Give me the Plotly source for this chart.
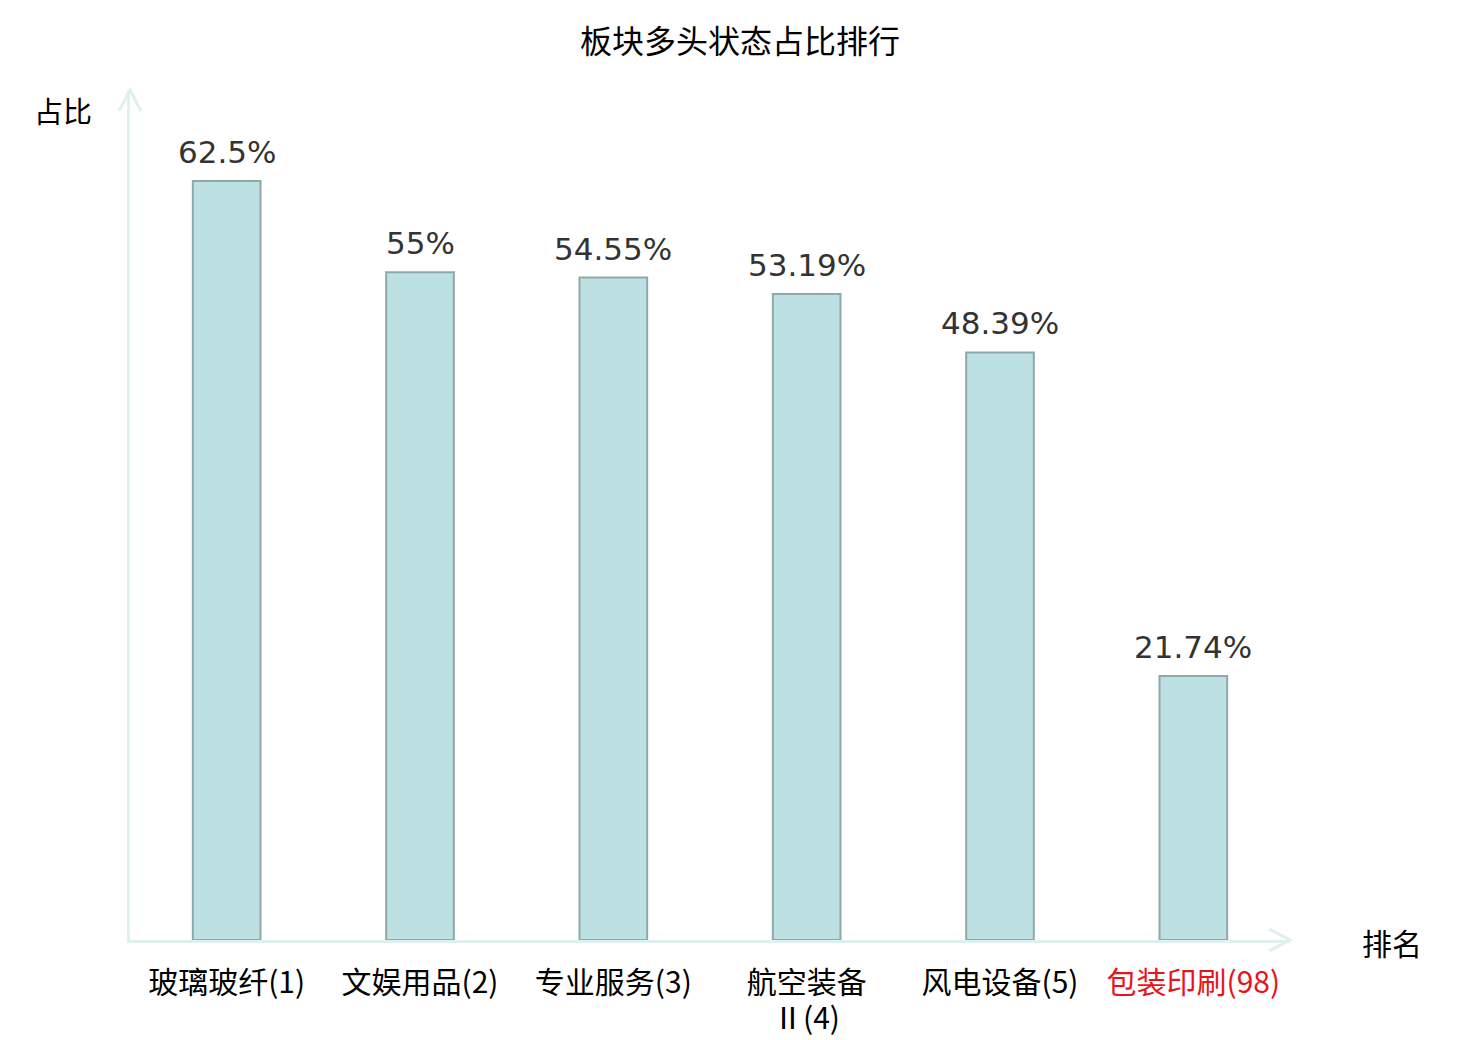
import plotly.graph_objects as go

# 板块多头状态占比 (%)
sectors = ["玻璃玻纤(1)", "文娱用品(2)", "专业服务(3)", "航空装备<br>Ⅱ(4)", "风电设备(5)", "包装印刷(98)"]
ratios = [62.5, 55, 54.55, 53.19, 48.39, 21.74]
ratio_labels = ["62.5%", "55%", "54.55%", "53.19%", "48.39%", "21.74%"]
highlight = "包装印刷(98)"  # 红色显示

AXIS_COLOR = "#dff1ef"
BAR_FILL = "#bde0e3"
BAR_EDGE = "#8fa9aa"
CJK_FONT = "Noto Sans CJK SC"

# 换行的标签: 第一行做刻度文字, 后面的行用注释放在下面 (行距比 plotly 默认紧)
tick_text = []
for s in sectors:
    first = s.split("<br>")[0]
    tick_text.append(f"<span style='color:#e8141c'>{first}</span>" if s == highlight else first)

fig = go.Figure(
    go.Bar(
        x=sectors,
        y=ratios,
        marker=dict(color=BAR_FILL, line=dict(color=BAR_EDGE, width=2)),
        hoverinfo="skip",
    )
)

# 数值标签 (比 bar 自带 text 离柱顶远一点)
for name, val, lab in zip(sectors, ratios, ratio_labels):
    fig.add_annotation(x=name, y=val, text=lab, showarrow=False, yanchor="bottom", yshift=9,
                       font=dict(family="DejaVu Sans", size=31, color="#333333"))

for s in sectors:
    rest = s.split("<br>")[1:]
    for i, line in enumerate(rest):
        fig.add_annotation(x=s, y=0, yref="paper", text=line, showarrow=False,
                           yanchor="middle", yshift=-76 - 32 * i,
                           font=dict(family=CJK_FONT, size=30, color="#000000"))

# 页面 body 有 8px 边距, 这里把边距往回收
fig.update_layout(
    width=1480,
    height=1040,
    margin=dict(l=122, r=198, t=82, b=108, autoexpand=False),
    plot_bgcolor="white",
    paper_bgcolor="white",
    bargap=0.65,
    showlegend=False,
    title=dict(text="板块多头状态占比排行", x=(740 - 8) / 1480, xanchor="center", y=1 - 34 / 1040,
               yref="container", yanchor="middle",
               font=dict(family=CJK_FONT, size=32, color="#000000")),
)

fig.update_xaxes(
    tickmode="array", tickvals=sectors, ticktext=tick_text,
    tickfont=dict(family=CJK_FONT, size=30, color="#000000"),
    showline=True, linecolor=AXIS_COLOR, linewidth=3, automargin=False,
    showgrid=False, ticks="", ticklabelstandoff=14,
)
fig.update_yaxes(
    range=[0, 70], showticklabels=False, showgrid=False, zeroline=False,
    showline=True, linecolor=AXIS_COLOR, linewidth=3, automargin=False,
)

# 坐标轴箭头 (paper 坐标)
pw, ph = 1160, 850
arrow = dict(color=AXIS_COLOR, width=3)
fig.add_shape(type="path", xref="paper", yref="paper",
              path=f"M {-11/pw},{1-21/ph} L 0,1 L {11/pw},{1-21/ph}", line=arrow)
fig.add_shape(type="path", xref="paper", yref="paper",
              path=f"M {1-21/pw},{11/ph} L 1,0 L {1-21/pw},{-11/ph}", line=arrow)

fig.add_annotation(text="占比", xref="paper", yref="paper", x=(63 - 130) / pw, y=(940 - 110) / ph,
                   xanchor="center", yanchor="middle",
                   showarrow=False, font=dict(family=CJK_FONT, size=29, color="#000000"))
fig.add_annotation(text="排名", xref="paper", yref="paper", x=(1392 - 130) / pw, y=(940 - 942) / ph,
                   xanchor="center", yanchor="middle",
                   showarrow=False, font=dict(family=CJK_FONT, size=30, color="#000000"))

fig.write_html("out.html")
